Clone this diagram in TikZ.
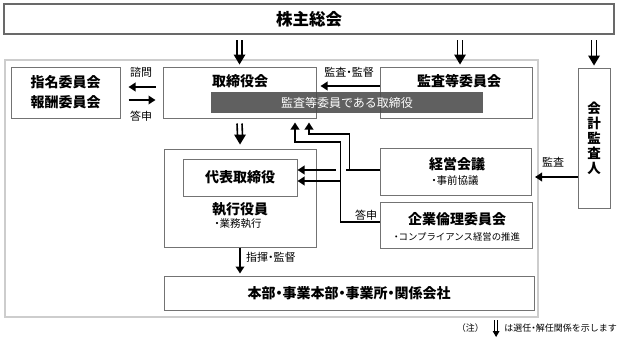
\documentclass[tikz,border=0pt]{standalone}
\usepackage{fontspec}
\setmainfont{Noto Sans CJK JP}
\usetikzlibrary{arrows.meta,calc}
\definecolor{bordergray}{RGB}{115,115,115}
\definecolor{framegray}{RGB}{205,205,205}
\definecolor{topgray}{RGB}{105,105,105}
\definecolor{bargray}{RGB}{75,75,75}
\newcommand{\dt}{\hbox to 0.5em{\hss・\hss}}
% #1 start, #2 tip, #3 half gap, #4 head half width, #5 head length, #6 line width
\newcommand{\dblarr}[6]{%
  \draw[line width=#6] ($(#1)+(-#3,0)$) -- ($(#2)+(-#3,-#5+1)$);
  \draw[line width=#6] ($(#1)+(#3,0)$) -- ($(#2)+(#3,-#5+1)$);
  \fill ($(#2)+(-#4,-#5)$) -- ($(#2)+(#4,-#5)$) -- (#2) -- cycle;}
\tikzset{
  box/.style={draw=bordergray, line width=1pt, fill=white, inner sep=0pt},
  T/.style={font=\fontsize{14}{17}\selectfont\bfseries, inner sep=0pt},
  S/.style={font=\fontsize{11}{13}\selectfont, inner sep=0pt},
  B/.style={font=\fontsize{10.5}{12}\selectfont, inner sep=0pt},
  arr/.style={line width=1.8pt, -{Triangle[length=7pt,width=8.5pt]}},
}
\begin{document}
\begin{tikzpicture}[x=1pt,y=-1pt]
\useasboundingbox[fill=white] (0,0) rectangle (620,340);
% outer frame
\node[draw=framegray, line width=2pt, minimum width=533pt, minimum height=257pt, inner sep=0pt] (frame) at (271.5,188.5) {};
% shareholders meeting
\node[draw=topgray, line width=2.5pt, fill=white, minimum width=610pt, minimum height=30pt, inner sep=0pt,
      font=\fontsize{16.5}{18}\selectfont\bfseries] (top) at (309,19) {株主総会};
% boxes
\node[box, minimum width=109pt, minimum height=51pt, align=center, font=\fontsize{14}{20}\selectfont\bfseries] (nom) at (65.5,92.5) {指名委員会\\報酬委員会};
\node[box, minimum width=153pt, minimum height=51pt] (bod) at (239.5,92.5) {};
\node[T] (bodt) at (240,81) {取締役会};
\node[box, minimum width=152pt, minimum height=51pt] (ac) at (456,92.5) {};
\node[T] (act) at (459,81) {監査等委員会};
\node[fill=bargray, fill opacity=0.88, text opacity=1, text=white, minimum width=272pt, minimum height=21pt, inner sep=0pt,
      font=\fontsize{12}{14}\selectfont] (bar) at (347,102.5) {監査等委員である取締役};
\node[box, minimum width=32pt, minimum height=140pt, align=center, font=\fontsize{13.5}{15}\selectfont\bfseries] (aud) at (594,138) {会\\計\\監\\査\\人};
\node[box, minimum width=152pt, minimum height=98pt] (exec) at (240,198) {};
\node[box, minimum width=114pt, minimum height=37pt, T] (rep) at (240,177.5) {代表取締役};
\node[T] (exect) at (240,209) {執行役員};
\node[B] (execs) at (238,224) {\dt 業務執行};
\node[box, minimum width=151pt, minimum height=47pt] (mgmt) at (455.5,171.5) {};
\node[T] (mgmtt) at (457,164) {経営会議};
\node[B] (mgmts) at (455,181) {\dt 事前協議};
\node[box, minimum width=152pt, minimum height=46pt] (eth) at (456,225) {};
\node[T] (etht) at (457,219) {企業倫理委員会};
\node[font=\fontsize{9.4}{11}\selectfont, inner sep=0pt] (eths) at (457,237) {\dt コンプライアンス経営の推進};
\node[box, minimum width=370pt, minimum height=34pt, T] (hq) at (349,293) {本部\dt 事業本部\dt 事業所\dt 関係会社};
% double arrows (appointment/dismissal)
\coordinate (d1s) at ($(top.south -| bod.north)+(0,5)$);
\coordinate (d1e) at ($(bod.north)+(0,-2)$);
\coordinate (d2s) at ($(top.south -| ac.north)+(4,5)$);
\coordinate (d2e) at ($(ac.north)+(4,-2)$);
\coordinate (d3s) at ($(top.south -| aud.north)+(0,5)$);
\coordinate (d3e) at ($(aud.north)+(0,-2)$);
\coordinate (d4s) at ($(bod.south)+(0,5)$);
\coordinate (d4e) at ($(exec.north)+(0,-4)$);
\dblarr{d1s}{d1e}{2.5}{6}{10}{1.6pt}
\dblarr{d2s}{d2e}{2.5}{6}{10}{1.6pt}
\dblarr{d3s}{d3e}{2.5}{6}{10}{1.6pt}
\dblarr{d4s}{d4e}{2.5}{6}{10}{1.6pt}
% consultation arrows
\draw[arr] ($(bod.west)+(-7,-5.5)$) -- ($(nom.east)+(8,-5.5)$);
\draw[arr] ($(nom.east)+(8,7.5)$) -- ($(bod.west)+(-7,7.5)$);
\node[S] (q1) at (141,72) {諮問};
\node[S] (a1) at (141,116) {答申};
% audit committee -> board
\draw[arr] ($(ac.west)+(0,-6.5)$) -- ($(bod.east)+(4,-6.5)$);
\node[S] (l1) at (349,72) {監査\dt 監督};
% accounting auditor
\coordinate (ka) at ($(aud.west)+(0,39)$);
\draw[arr, shorten >=-4pt] (ka) -- (ka -| frame.east);
\node[S] (l2) at (553,162) {監査};
% management -> representative director
\draw[arr] ($(mgmt.west)+(0,-1.5)$) -- ($(rep.east)+(0,-7.5)$);
\fill[white] (336,166.5) rectangle (346,173.5);
% up arrows to the board
\coordinate (tA) at ($(bod.south)+(55.5,4)$);
\coordinate (tB) at ($(bod.south)+(69.5,4)$);
\draw[arr] ($(eth.west)+(0,-3)$) -| ($(eth.west)+(-39,-83)$) -| (tA);
\draw[arr] ($(mgmt.west)+(0,-1.5)$) -| ($(mgmt.west)+(-30,-37.5)$) -| (tB);
\coordinate (jA) at ($(eth.west)+(-39,-44)$);
\draw[arr] (jA) -- ($(rep.east)+(0,3.5)$);
\node[S] (a2) at (366,215) {答申};
% command
\draw[arr] (exec.south) -- ($(hq.north -| exec.south)+(0,-2)$);
\node[S, anchor=west] (l3) at (246,257) {指揮\dt 監督};
% note
\node[font=\fontsize{9}{11}\selectfont, inner sep=0pt, anchor=east] (note2) at (617,328) {は選任\dt 解任関係を示します};
\node[font=\fontsize{9}{11}\selectfont, inner sep=0pt, anchor=east] (note1) at (484,328) {（注）};
\coordinate (ns) at ($(note2.west)+(-8,-8)$);
\coordinate (ne) at ($(note2.west)+(-8,9)$);
\dblarr{ns}{ne}{1.5}{3.5}{6}{1pt}
\end{tikzpicture}
\end{document}
